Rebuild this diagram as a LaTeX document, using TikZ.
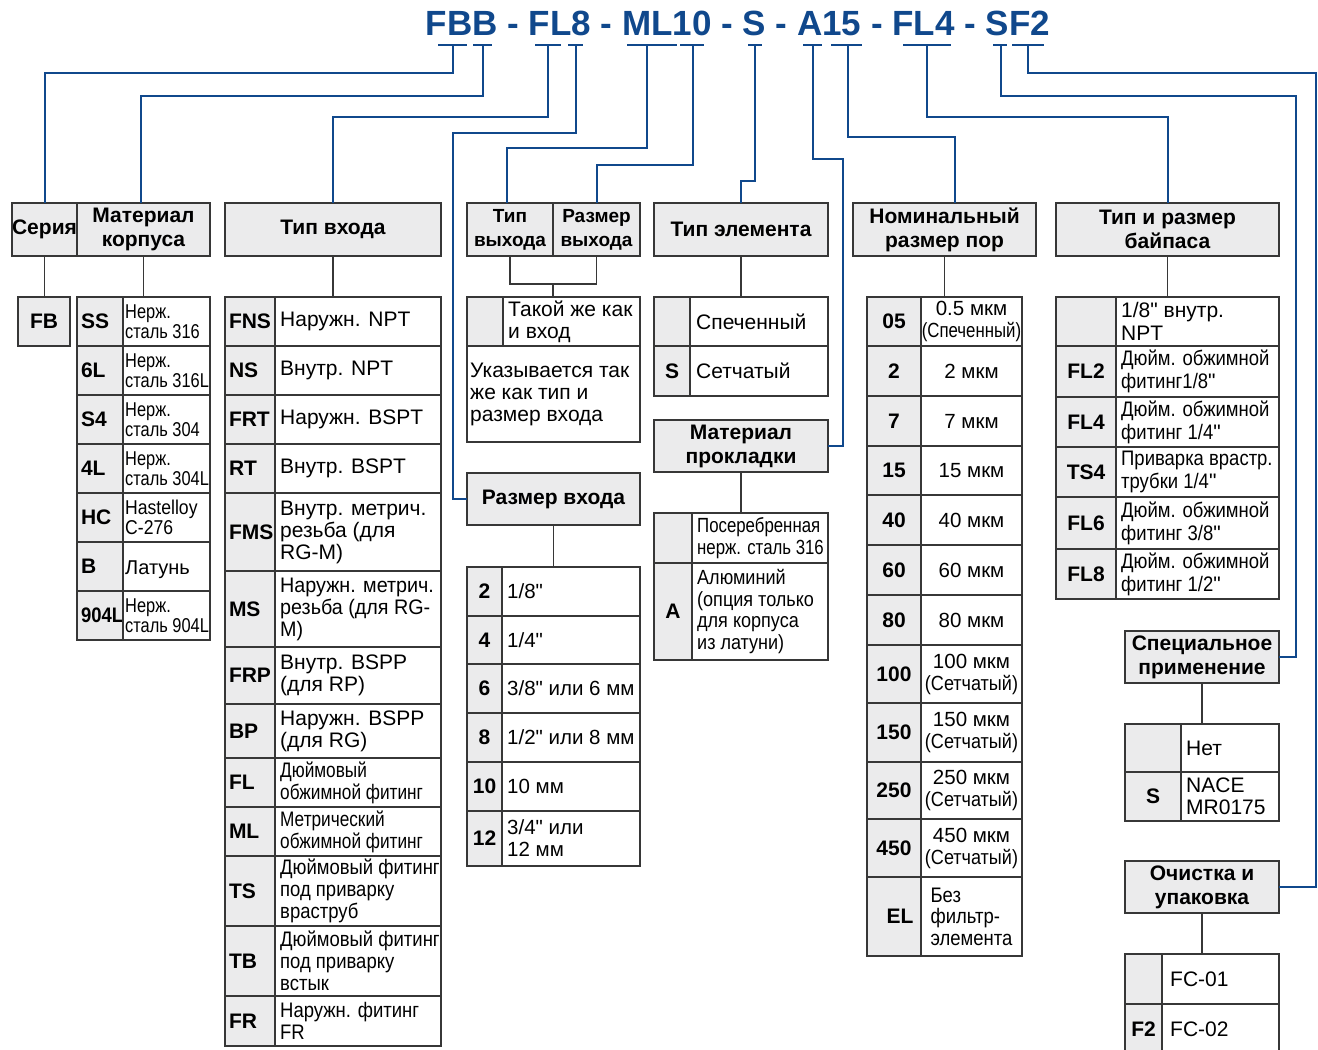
\documentclass[tikz,border=0pt]{standalone}
\usepackage{fontspec}
\setmainfont{Liberation Sans}
\newfontfamily\plaintxt{Liberation Sans}
\newfontfamily\narrowtxt{Liberation Sans}[FakeStretch=0.82]
\newfontfamily\semitxt{Liberation Sans}[FakeStretch=0.88]
\newfontfamily\trimtxt{Liberation Sans}[FakeStretch=0.94]
\newcommand\inchmark{{\plaintxt\symbol{34}}}
\usepackage{xcolor}
\usepackage{tikz}
\definecolor{codeblue}{RGB}{16,72,140}
\definecolor{frame}{RGB}{55,55,55}
\definecolor{shade}{RGB}{235,235,236}

\begin{document}
\begin{tikzpicture}[
    x=1pt, y=-1pt,
    box/.style={draw=frame, line width=1.5pt, anchor=north west, inner sep=0pt, outer sep=0pt},
    header/.style={box, fill=shade, align=center, font=\bfseries\fontsize{21}{24}\selectfont},
    tag/.style={box, fill=shade, inner xsep=4pt, font=\bfseries\fontsize{21}{22}\selectfont},
    cell/.style={box, fill=white, font=\fontsize{21}{22}\selectfont},
    note/.style={anchor=west, align=left, inner xsep=5pt, inner ysep=0pt, font=\fontsize{21}{22}\selectfont},
    bus/.style={draw=codeblue, line width=2pt},
    stem/.style={draw=frame, line width=1.5pt}
]
    \path [use as bounding box, fill=white] (0,0) rectangle (1318,1050);

    % part number and its marks
    \node [text=codeblue, font=\bfseries\fontsize{35}{37}\selectfont] (partno) at (738,23) {FBB - FL8 - ML10 - S - A15 - FL4 - SF2};
    \foreach \a/\b in {438/467, 473/492, 535/561, 568/583, 627/677, 680/704, 748/762, 803/822, 831/862, 903/951, 993/1007, 1012/1044}
        \draw [bus] (\a,45) -- (\b,45);
    \coordinate (pFB) at (453,45);
    \coordinate (pB) at (483,45);
    \coordinate (pFL) at (548,45);
    \coordinate (pIn) at (576,45);
    \coordinate (pML) at (647,45);
    \coordinate (pOut) at (693,45);
    \coordinate (pS) at (755,45);
    \coordinate (pA) at (813,45);
    \coordinate (pPore) at (848,45);
    \coordinate (pFL4) at (927,45);
    \coordinate (pSp) at (1001,45);
    \coordinate (pF2) at (1028,45);

    % headers
    \node [header, minimum width=65pt, minimum height=53pt] (serie) at (12,203) {Серия};
    \node [header, minimum width=133pt, minimum height=53pt] (body) at (77,203) {Материал\\корпуса};
    \node [header, minimum width=216pt, minimum height=53pt] (intype) at (225,203) {Тип входа};
    \node [header, minimum width=86pt, minimum height=53pt, font=\bfseries\fontsize{19}{24}\selectfont] (outtype) at (467,203) {Тип\\выхода};
    \node [header, minimum width=87pt, minimum height=53pt, font=\bfseries\fontsize{19}{24}\selectfont] (outsize) at (553,203) {Размер\\выхода};
    \node [header, minimum width=174pt, minimum height=53pt] (elem) at (654,203) {Тип элемента};
    \node [header, minimum width=174pt, minimum height=52pt] (gasket) at (654,420) {Материал\\прокладки};
    \node [header, minimum width=173pt, minimum height=52pt] (inlet) at (467,473) {Размер входа};
    \node [header, minimum width=183pt, minimum height=53pt] (pore) at (853,203) {Номинальный\\размер пор};
    \node [header, minimum width=223pt, minimum height=53pt] (bypass) at (1056,203) {Тип и размер\\байпаса};
    \node [header, minimum width=154pt, minimum height=52pt] (special) at (1125,631) {Специальное\\применение};
    \node [header, minimum width=154pt, minimum height=52pt] (clean) at (1125,861) {Очистка и\\упаковка};

    % series
    \node [tag, minimum width=52pt, minimum height=49pt] (fb) at (18,297) {FB};

    % body material
    \foreach \y/\c/\f/\t [count=\i] in {297/SS/\narrowtxt/{Нерж.\\сталь 316}, 346/6L/\narrowtxt/{Нерж.\\сталь 316L},
        395/S4/\narrowtxt/{Нерж.\\сталь 304}, 444/4L/\narrowtxt/{Нерж.\\сталь 304L}, 493/HC/\semitxt/{Hastelloy\\C-276},
        542/B/\upshape/{\\Латунь}, 591/{\semitxt 904L}/\narrowtxt/{Нерж.\\сталь 904L}} {
        \node [tag, minimum height=49pt, text width=38pt, align=left, inner xsep=4pt] (mat-c\i) at (77,\y) {\c};
        \node [cell, minimum width=87pt, minimum height=49pt] (mat-\i) at (123,\y) {};
        \node [note, inner xsep=2pt, font=\fontsize{20}{20}\selectfont\f] (mat-t\i) at (mat-\i.west) {\t};
    }

    % inlet type
    \foreach \y/\h/\c/\f/\t [count=\i] in {297/49/FNS/\upshape/{Наружн. NPT}, 346/49/NS/\upshape/{Внутр. NPT},
        395/49/FRT/\upshape/{Наружн. BSPT}, 444/49/RT/\upshape/{Внутр. BSPT},
        493/78/FMS/\upshape/{Внутр. метрич.\\резьба (для\\RG-M)}, 571/76/MS/\trimtxt/{Наружн. метрич.\\резьба (для RG-\\M)},
        647/57/FRP/\upshape/{Внутр. BSPP\\(для RP)}, 704/54/BP/\upshape/{Наружн. BSPP\\(для RG)},
        758/49/FL/\narrowtxt/{Дюймовый\\обжимной фитинг}, 807/49/ML/\narrowtxt/{Метрический\\обжимной фитинг},
        856/70/TS/\semitxt/{Дюймовый фитинг\\под приварку\\враструб}, 926/70/TB/\semitxt/{Дюймовый фитинг\\под приварку\\встык},
        996/50/FR/\semitxt/{Наружн. фитинг\\FR}} {
        \node [tag, minimum height=\h pt, text width=42pt, align=left] (int-c\i) at (225,\y) {\c};
        \node [cell, minimum width=166pt, minimum height=\h pt] (int-\i) at (275,\y) {};
        \node [note, font=\fontsize{21}{22}\selectfont\f] (int-t\i) at (int-\i.west) {\t};
    }

    % outlet
    \node [tag, minimum width=36pt, minimum height=49pt] (out-c1) at (467,297) {};
    \node [cell, minimum width=137pt, minimum height=49pt] (out-1) at (503,297) {};
    \node [note] (out-t1) at (out-1.west) {Такой же как\\и вход};
    \node [cell, minimum width=173pt, minimum height=96pt] (out-2) at (467,346) {};
    \node [note, inner xsep=3pt] (out-t2) at (out-2.west) {Указывается так\\же как тип и\\размер входа};

    % inlet size
    \foreach \y/\h/\c/\t [count=\i] in {567/49/2/{1/8\inchmark}, 616/48/4/{1/4\inchmark}, 664/49/6/{3/8\inchmark{} или 6 мм},
        713/49/8/{1/2\inchmark{} или 8 мм}, 762/49/10/{10 мм}, 811/55/12/{3/4\inchmark{} или\\12 мм}} {
        \node [tag, minimum width=35pt, minimum height=\h pt] (ins-c\i) at (467,\y) {\c};
        \node [cell, minimum width=138pt, minimum height=\h pt] (ins-\i) at (502,\y) {};
        \node [note, font=\fontsize{20.5}{22}\selectfont] (ins-t\i) at (ins-\i.west) {\t};
    }

    % element type
    \foreach \y/\h/\c/\t [count=\i] in {297/49/{}/Спеченный, 346/50/S/Сетчатый} {
        \node [tag, minimum width=36pt, minimum height=\h pt] (el-c\i) at (654,\y) {\c};
        \node [cell, minimum width=138pt, minimum height=\h pt] (el-\i) at (690,\y) {};
        \node [note, inner xsep=6pt] (el-t\i) at (el-\i.west) {\t};
    }

    % gasket material
    \foreach \y/\h/\c/\f/\t [count=\i] in {513/50/{}/\narrowtxt/{Посеребренная\\нерж. сталь 316},
        563/97/A/\semitxt/{Алюминий\\(опция только\\для корпуса\\из латуни)}} {
        \node [tag, minimum width=38pt, minimum height=\h pt] (gas-c\i) at (654,\y) {\c};
        \node [cell, minimum width=136pt, minimum height=\h pt] (gas-\i) at (692,\y) {};
        \node [note, font=\fontsize{20.5}{21.5}\selectfont\f] (gas-t\i) at (gas-\i.west) {\t};
    }

    % pore size
    \foreach \y/\h/\c/\t [count=\i] in {297/49/05/{0.5 мкм\\{\narrowtxt (Спеченный)}}, 346/50/2/{2 мкм}, 396/50/7/{7 мкм},
        446/49/15/{15 мкм}, 495/50/40/{40 мкм}, 545/50/60/{60 мкм}, 595/50/80/{80 мкм},
        645/58/100/{100 мкм\\{\semitxt (Сетчатый)}}, 703/59/150/{150 мкм\\{\semitxt (Сетчатый)}},
        762/57/250/{250 мкм\\{\semitxt (Сетчатый)}}, 819/58/450/{450 мкм\\{\semitxt (Сетчатый)}}} {
        \node [tag, minimum width=54pt, minimum height=\h pt] (pore-c\i) at (867,\y) {\c};
        \node [cell, minimum width=101pt, minimum height=\h pt, align=center, font=\fontsize{20.5}{22}\selectfont] (pore-\i) at (921,\y) {\t};
    }
    \node [tag, minimum width=54pt, minimum height=79pt] (pore-c12) at (867,877) {\hspace*{12pt}EL};
    \node [cell, minimum width=101pt, minimum height=79pt, align=left, font=\semitxt\fontsize{21}{21.5}\selectfont] (pore-12) at (921,877) {Без\\фильтр-\\элемента};

    % bypass
    \foreach \y/\h/\c/\f/\t [count=\i] in {297/49/{}/\upshape/{1/8\inchmark{} внутр.\\NPT},
        346/51/FL2/\semitxt/{Дюйм. обжимной\\фитинг1/8\inchmark},
        397/50/FL4/\semitxt/{Дюйм. обжимной\\фитинг 1/4\inchmark}, 447/50/TS4/\semitxt/{Приварка врастр.\\трубки 1/4\inchmark},
        497/52/FL6/\semitxt/{Дюйм. обжимной\\фитинг 3/8\inchmark}, 549/50/FL8/\semitxt/{Дюйм. обжимной\\фитинг 1/2\inchmark}} {
        \node [tag, minimum width=60pt, minimum height=\h pt] (byp-c\i) at (1056,\y) {\c};
        \node [cell, minimum width=163pt, minimum height=\h pt] (byp-\i) at (1116,\y) {};
        \node [note, font=\fontsize{21}{23}\selectfont\f] (byp-t\i) at (byp-\i.west) {\t};
    }

    % special application
    \foreach \y/\h/\c/\t [count=\i] in {724/48/{}/Нет, 772/49/S/{NACE\\MR0175}} {
        \node [tag, minimum width=56pt, minimum height=\h pt] (spc-c\i) at (1125,\y) {\c};
        \node [cell, minimum width=98pt, minimum height=\h pt] (spc-\i) at (1181,\y) {};
        \node [note] (spc-t\i) at (spc-\i.west) {\t};
    }

    % cleaning and packing
    \foreach \y/\c/\t [count=\i] in {954/{}/FC-01, 1004/F2/FC-02} {
        \node [tag, minimum width=37pt, minimum height=50pt] (cln-c\i) at (1125,\y) {\c};
        \node [cell, minimum width=117pt, minimum height=50pt] (cln-\i) at (1162,\y) {};
        \node [note, inner xsep=8pt] (cln-t\i) at (cln-\i.west) {\t};
    }

    % blue leaders from the part number
    \draw [bus] (pFB) -- ++(0,28) -| (serie.north);
    \draw [bus] (pB) -- ++(0,51) -| ([xshift=-3pt]body.north);
    \draw [bus] (pFL) -- ++(0,72) -| (intype.north);
    \draw [bus] (pIn) -- ++(0,88) -- ++(-123,0) |- (inlet.west);
    \draw [bus] (pML) -- ++(0,103) -| ([xshift=-3pt]outtype.north);
    \draw [bus] (pOut) -- ++(0,120) -| (outsize.north);
    \draw [bus] (pS) -- ++(0,136) -| (elem.north);
    \draw [bus] (pA) -- ++(0,114) -- ++(30,0) |- (gasket.east);
    \draw [bus] (pPore) -- ++(0,92) -| ([xshift=10pt]pore.north);
    \draw [bus] (pFL4) -- ++(0,72) -| (bypass.north);
    \draw [bus] (pSp) -- ++(0,51) -- ++(295,0) |- (special.east);
    \draw [bus] (pF2) -- ++(0,28) -- ++(288,0) |- (clean.east);

    % grey stems from headers to their tables
    \draw [stem] (serie.south) -- (serie.south |- fb.north);
    \draw [stem] (body.south) -- (body.south |- mat-1.north);
    \draw [stem] (intype.south) -- (intype.south |- int-1.north);
    \coordinate (outjoin) at (553,284);
    \draw [stem] (outtype.south) |- (outjoin) -| (outsize.south);
    \draw [stem] (outjoin) -- (outjoin |- out-1.north);
    \draw [stem] (elem.south) -- (elem.south |- el-1.north);
    \draw [stem] (gasket.south) -- (gasket.south |- gas-1.north);
    \draw [stem] (inlet.south) -- (inlet.south |- ins-1.north);
    \draw [stem] (pore.south) -- (pore.south |- pore-1.north);
    \draw [stem] (bypass.south) -- (bypass.south |- byp-1.north);
    \draw [stem] (special.south) -- (special.south |- spc-1.north);
    \draw [stem] (clean.south) -- (clean.south |- cln-1.north);
\end{tikzpicture}
\end{document}
